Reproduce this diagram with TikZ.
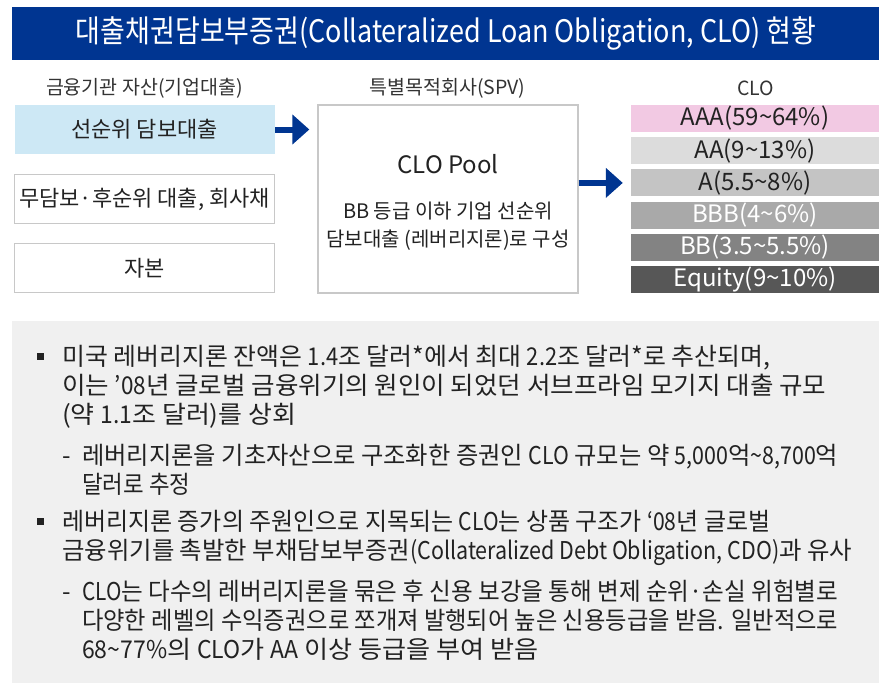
\documentclass[tikz,border=0pt]{standalone}
\usepackage{fontspec}
\usepackage{graphicx}
\setmainfont{Noto Sans CJK KR}
\newfontfamily\kr{Noto Sans CJK KR}
\newfontfamily\krc[FakeStretch=0.86]{Noto Sans CJK KR}
\newfontfamily\krl[FakeStretch=0.88]{Noto Sans CJK KR}
\newcommand{\Lt}[1]{{\krl #1}}
\newcommand{\fitw}[2]{\resizebox{#1}{\height}{#2}}
\usetikzlibrary{arrows.meta}
\definecolor{titleblue}{HTML}{003591}
\definecolor{lightblue}{HTML}{CDE8F5}
\definecolor{boxgray}{HTML}{C8C8C8}
\definecolor{panelgray}{HTML}{F0F0F0}
\definecolor{txt}{HTML}{222222}
\definecolor{hdr}{HTML}{333333}
\definecolor{cAAA}{HTML}{F2C9E3}
\definecolor{cAA}{HTML}{DCDCDC}
\definecolor{cA}{HTML}{C4C4C4}
\definecolor{cBBB}{HTML}{A9A9A9}
\definecolor{cBB}{HTML}{838383}
\definecolor{cEq}{HTML}{575757}
\begin{document}
\begin{tikzpicture}[x=1pt,y=-1pt,
  assetbox/.style={draw=boxgray,line width=1.3pt,minimum width=260pt,minimum height=49pt,inner sep=0pt,
    font=\kr\fontsize{22}{26}\selectfont,text=txt},
  hdrlabel/.style={inner sep=0pt,font=\kr\fontsize{19.5}{23}\selectfont,text=hdr},
  tranche/.style={minimum width=248pt,minimum height=27pt,inner sep=0pt,
    font=\kr\fontsize{24}{26}\selectfont},
  bigarrow/.style={draw=titleblue,line width=6pt,-{Triangle[length=17pt,width=29pt]}},
  bodytext/.style={anchor=base west,inner sep=0pt,font=\kr\fontsize{24.5}{28}\selectfont,text=txt},
  bulletsq/.style={fill=txt,minimum size=7pt,inner sep=0pt}
]
\useasboundingbox (0,0) rectangle (879,688);
% title
\fill[titleblue] (12,7) rectangle (879,60);
\node[inner sep=0pt,text=white,font=\krc\fontsize{31}{34}\selectfont] (title) at (446,33.5)
  {\fitw{740pt}{대출채권담보부증권(Collateralized Loan Obligation, CLO) 현황}};
% headers
\node[hdrlabel] (h1) at (144.5,88) {금융기관 자산(기업대출)};
\node[hdrlabel] (h2) at (447.5,88) {특별목적회사(SPV)};
\node[hdrlabel] (h3) at (755.5,88) {CLO};
% left boxes
\node[assetbox,draw=none,fill=lightblue] (senior) at (144.5,129.5) {선순위 담보대출};
\node[assetbox] (junior) at (144.5,199) {무담보·후순위 대출, 회사채};
\node[assetbox] (equity) at (144.5,268) {자본};
% SPV
\node[draw=boxgray,line width=1.3pt,minimum width=260pt,minimum height=188pt,inner sep=0pt] (spv) at (448,199) {};
\node[inner sep=0pt,font=\kr\fontsize{24}{28}\selectfont,text=txt] (pool) at (448,164) {CLO Pool};
\node[inner sep=0pt,font=\kr\fontsize{20}{28}\selectfont,text=txt,align=center] (pooltxt) at (448,226)
  {BB 등급 이하 기업 선순위\\담보대출 (레버리지론)로 구성};
% tranches
\node[tranche,fill=cAAA,text=txt] (tAAA) at (755,118.5) {AAA(59\textasciitilde64\%)};
\node[tranche,fill=cAA,text=txt] (tAA) at (755,150.7) {AA(9\textasciitilde13\%)};
\node[tranche,fill=cA,text=txt] (tA) at (755,182.9) {A(5.5\textasciitilde8\%)};
\node[tranche,fill=cBBB,text=white] (tBBB) at (755,215.1) {BBB(4\textasciitilde6\%)};
\node[tranche,fill=cBB,text=white] (tBB) at (755,247.3) {BB(3.5\textasciitilde5.5\%)};
\node[tranche,fill=cEq,text=white] (tEq) at (755,279.5) {Equity(9\textasciitilde10\%)};
% arrows
\coordinate (a1end) at ([xshift=-8pt]spv.west |- senior.east);
\draw[bigarrow] (senior.east) -- (a1end);
\coordinate (a2start) at (spv.east |- tA.west);
\coordinate (a2end) at ([xshift=-8pt]tA.west);
\draw[bigarrow] (a2start) -- (a2end);
% panel
\fill[panelgray] (12,321) rectangle (879,683);
\node[bulletsq] (b1) at (40,356) {};
\node[bodytext] (l1) at (62,365) {\fitw{708pt}{미국 레버리지론 잔액은 \Lt{1.4}조 달러*에서 최대 \Lt{2.2}조 달러*로 추산되며,}};
\node[bodytext] (l2) at (62,394) {\fitw{764pt}{이는 \Lt{’08}년 글로벌 금융위기의 원인이 되었던 서브프라임 모기지 대출 규모}};
\node[bodytext] (l3) at (62,423) {\fitw{234pt}{(약 \Lt{1.1}조 달러)를 상회}};
\node[bodytext] (d1) at (62,464) {-};
\node[bodytext] (l4) at (82,464) {\fitw{756pt}{레버리지론을 기초자산으로 구조화한 증권인 \Lt{CLO} 규모는 약 \Lt{5,000}억\Lt{\textasciitilde8,700}억}};
\node[bodytext] (l5) at (82,493) {\fitw{108pt}{달러로 추정}};
\node[bulletsq] (b2) at (40,521) {};
\node[bodytext] (l6) at (62,530) {\fitw{708pt}{레버리지론 증가의 주원인으로 지목되는 \Lt{CLO}는 상품 구조가 \Lt{‘08}년 글로벌}};
\node[bodytext] (l7) at (62,559) {\fitw{790pt}{금융위기를 촉발한 부채담보부증권\Lt{(Collateralized Debt Obligation, CDO)}과 유사}};
\node[bodytext] (d2) at (62,600) {-};
\node[bodytext] (l8) at (82,600) {\fitw{756pt}{\Lt{CLO}는 다수의 레버리지론을 묶은 후 신용 보강을 통해 변제 순위·손실 위험별로}};
\node[bodytext] (l9) at (82,629) {\fitw{756pt}{다양한 레벨의 수익증권으로 쪼개져 발행되어 높은 신용등급을 받음. 일반적으로}};
\node[bodytext] (l10) at (82,658) {\fitw{456pt}{\Lt{68\textasciitilde77\%}의 \Lt{CLO}가 \Lt{AA} 이상 등급을 부여 받음}};
\end{tikzpicture}
\end{document}
